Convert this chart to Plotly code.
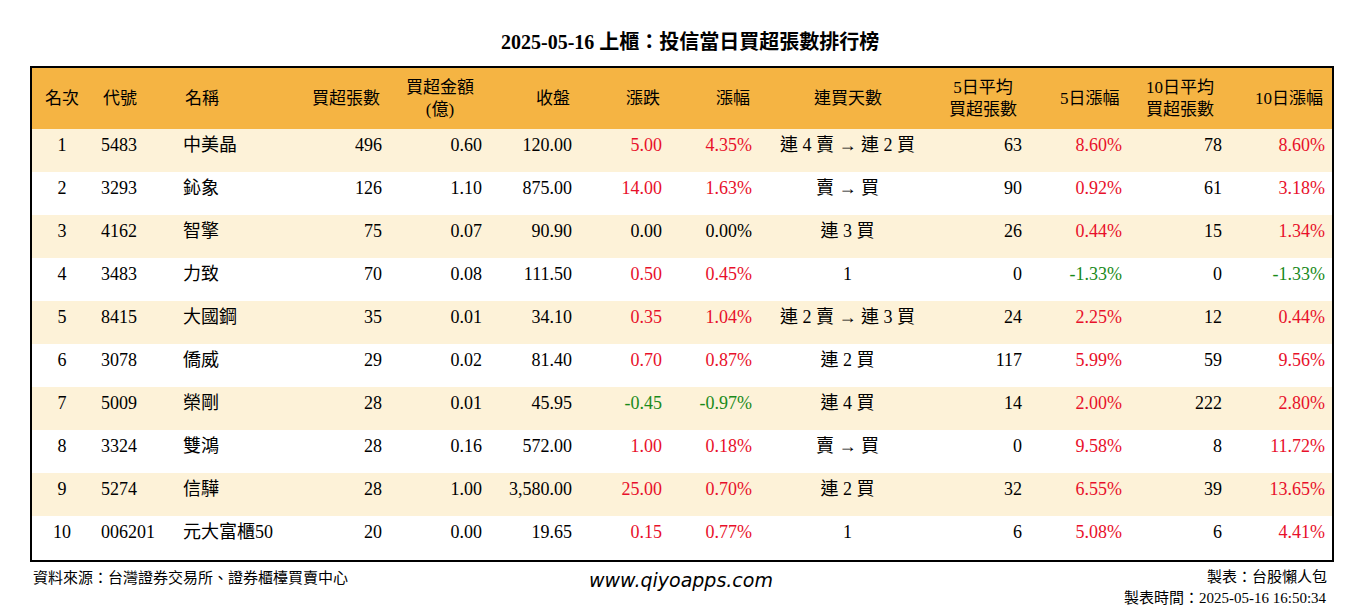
import plotly.graph_objects as go

W, H = 1364, 612
OFF = 8  # page body margin

ranks = [str(i) for i in range(1, 11)]
codes = ["5483", "3293", "4162", "3483", "8415", "3078", "5009", "3324", "5274", "006201"]
names = ["中美晶", "鈊象", "智擎", "力致", "大國鋼", "僑威", "榮剛", "雙鴻", "信驊", "元大富櫃50"]
net_buy = [496, 126, 75, 70, 35, 29, 28, 28, 28, 20]
amount = [0.60, 1.10, 0.07, 0.08, 0.01, 0.02, 0.01, 0.16, 1.00, 0.00]
close = [120.00, 875.00, 90.90, 111.50, 34.10, 81.40, 45.95, 572.00, 3580.00, 19.65]
change = [5.00, 14.00, 0.00, 0.50, 0.35, 0.70, -0.45, 1.00, 25.00, 0.15]
pct = [4.35, 1.63, 0.00, 0.45, 1.04, 0.87, -0.97, 0.18, 0.70, 0.77]
streak = ["連 4 賣 → 連 2 買", "賣 → 買", "連 3 買", "1", "連 2 賣 → 連 3 買",
          "連 2 買", "連 4 買", "賣 → 買", "連 2 買", "1"]
avg5 = [63, 90, 26, 0, 24, 117, 14, 0, 32, 6]
pct5 = [8.60, 0.92, 0.44, -1.33, 2.25, 5.99, 2.00, 9.58, 6.55, 5.08]
avg10 = [78, 61, 15, 0, 12, 59, 222, 8, 39, 6]
pct10 = [8.60, 3.18, 1.34, -1.33, 0.44, 9.56, 2.80, 11.72, 13.65, 4.41]

headers = ["名次", "代號", "名稱", "買超張數", "買超金額<br>(億)", "收盤", "漲跌", "漲幅",
           "連買天數", "5日平均<br>買超張數", "5日漲幅", "10日平均<br>買超張數", "10日漲幅"]
col_px = [62, 82, 115, 100, 100, 90, 90, 90, 175, 95, 100, 100, 103]
aligns = ["center", "left", "left", "right", "right", "right", "right", "right",
          "center", "right", "right", "right", "right"]
header_aligns = ["center", "left", "left", "right", "center", "right", "right", "right",
                 "center", "center", "right", "center", "right"]


def sign_color(v):
    if v > 0:
        return "#e8102a"
    if v < 0:
        return "#1a8a1a"
    return "black"


black = ["black"] * 10
values = [
    ranks, codes, names,
    [str(v) for v in net_buy],
    [f"{v:.2f}" for v in amount],
    [f"{v:,.2f}" for v in close],
    [f"{v:.2f}" for v in change],
    [f"{v:.2f}%" for v in pct],
    streak,
    [str(v) for v in avg5],
    [f"{v:.2f}%" for v in pct5],
    [str(v) for v in avg10],
    [f"{v:.2f}%" for v in pct10],
]
colors = [black, black, black, black, black, black,
          [sign_color(v) for v in change], [sign_color(v) for v in pct],
          black, black, [sign_color(v) for v in pct5], black,
          [sign_color(v) for v in pct10]]
row_fill = ["#fdf2d8" if i % 2 == 0 else "white" for i in range(10)]

x0, x1, y0, y1 = 31 - OFF, 1333 - OFF, 67 - OFF, 561 - OFF
font_main = "Liberation Serif, Noto Sans CJK TC"


def px(x):
    return x / W


def py(y):
    return 1 - y / H


fig = go.Figure(go.Table(
    domain=dict(x=[px(x0), px(x1)], y=[py(y1), py(y0)]),
    columnwidth=col_px,
    header=dict(values=[""] * 13, height=62,
                fill_color="#f5b443", line=dict(width=0, color="#f5b443")),
    cells=dict(values=values, align=aligns, height=43,
               fill_color=[row_fill] * 13, line=dict(width=0, color="white"),
               font=dict(family=font_main, size=18, color=colors)),
))

fig.add_shape(type="rect", xref="paper", yref="paper",
              x0=px(x0), x1=px(x1), y0=py(y1), y1=py(y0),
              line=dict(color="black", width=2))

# header labels, vertically centred in the header band
left = x0
for label, w, al in zip(headers, col_px, header_aligns):
    if al == "left":
        xa, xx = "left", left + 8
    elif al == "right":
        xa, xx = "right", left + w - 8
    else:
        xa, xx = "center", left + w / 2
    fig.add_annotation(text=label, x=px(xx), y=py(y0 + 31), xref="paper", yref="paper",
                       xanchor=xa, yanchor="middle", showarrow=False, align="center",
                       font=dict(family=font_main, size=17, color="black"))
    left += w

fig.add_annotation(text="<b>2025-05-16 上櫃：投信當日買超張數排行榜</b>", x=0.5, y=py(42 - OFF),
                   xref="paper", yref="paper", yanchor="middle", showarrow=False,
                   font=dict(family=font_main, size=20, color="black"))
fig.add_annotation(text="資料來源：台灣證券交易所、證券櫃檯買賣中心", x=px(x0), y=py(577 - OFF),
                   xref="paper", yref="paper", xanchor="left", yanchor="middle", showarrow=False,
                   font=dict(family=font_main, size=15, color="black"))
fig.add_annotation(text="<i>www.qiyoapps.com</i>", x=px(681 - OFF), y=py(580 - OFF),
                   xref="paper", yref="paper", yanchor="middle", showarrow=False,
                   font=dict(family="DejaVu Sans", size=19, color="black"))
fig.add_annotation(text="製表：台股懶人包", x=px(x1 - 4), y=py(577 - OFF),
                   xref="paper", yref="paper", xanchor="right", yanchor="middle", showarrow=False,
                   font=dict(family=font_main, size=15, color="black"))
fig.add_annotation(text="製表時間：2025-05-16 16:50:34", x=px(x1 - 4), y=py(598 - OFF),
                   xref="paper", yref="paper", xanchor="right", yanchor="middle", showarrow=False,
                   font=dict(family=font_main, size=15, color="black"))

fig.update_layout(width=W, height=H, margin=dict(l=0, r=0, t=0, b=0),
                  paper_bgcolor="white", plot_bgcolor="white")

fig.write_html("out.html")
